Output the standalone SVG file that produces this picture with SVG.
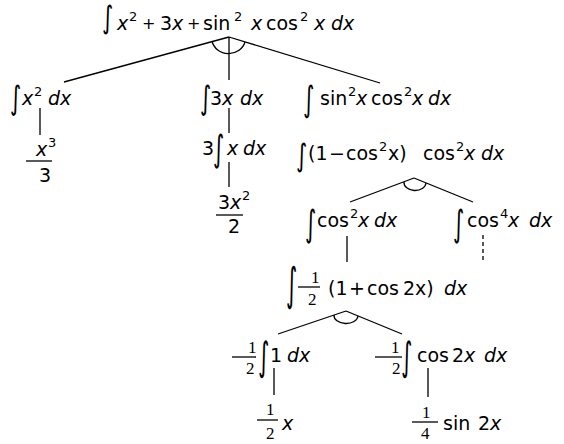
<svg xmlns="http://www.w3.org/2000/svg" width="564" height="444" viewBox="0 0 564 444">
<style>
.t{font-family:"DejaVu Sans","Liberation Sans",Arial,sans-serif;font-size:19px;fill:#000}
.i{font-style:italic}
.s{font-size:13px}
.p{font-size:16px}
.int{font-family:"DejaVu Sans",sans-serif;font-size:24px;fill:#000}
.f{font-family:"Liberation Serif","Times New Roman",serif;font-size:17px}
.ln{stroke:#000;stroke-width:1.3;fill:none}
.bar{stroke:#000;stroke-width:1.3}
.dash{stroke-dasharray:4 3}
</style>
<rect width="564" height="444" fill="#fff"/>
<g id="connectors">
<path class="ln" d="M229,37 L64,82 M229,37 L229,80 M229,37 L380,83"/>
<path class="ln" d="M212,41 A17,16 0 0 0 245,42"/>
<path class="ln" d="M40,108 L40,135"/>
<path class="ln" d="M229,108 L229,133 M229,162 L229,187"/>
<path class="ln" d="M414,178 L350,202 M414,178 L473,202"/>
<path class="ln" d="M404,182 A11,8 0 0 0 426,183"/>
<path class="ln" d="M347,236 L347,262"/>
<path class="ln dash" d="M483,235 L483,263"/>
<path class="ln" d="M346,311 L278,334 M346,311 L402,334"/>
<path class="ln" d="M334,315 A12,8 0 0 0 358,316"/>
<path class="ln" d="M274,368 L274,395 M428,368 L428,397"/>
</g>
<g id="n0">
<text class="int" transform="translate(102,28.2) scale(0.9,1.3)">∫</text>
<text class="t"><tspan class="i" x="117" y="30">x</tspan><tspan class="s" x="129" y="21">2</tspan><tspan class="p" x="142" y="29">+</tspan><tspan x="160" y="30">3</tspan><tspan class="i" x="172" y="30">x</tspan><tspan class="p" x="187" y="29">+</tspan><tspan x="203" y="30">sin</tspan><tspan class="s" x="234" y="21">2</tspan><tspan class="i" x="251" y="30">x</tspan><tspan x="266" y="30">cos</tspan><tspan class="s" x="300" y="21">2</tspan><tspan class="i" x="314" y="30">x</tspan><tspan class="i" x="331" y="30">dx</tspan></text>
</g>
<g id="n1">
<text class="int" transform="translate(10,109) scale(0.9,1.35)">∫</text>
<text class="t"><tspan class="i" x="22" y="105">x</tspan><tspan class="s" x="34" y="96">2</tspan><tspan class="i" x="48" y="105">dx</tspan></text>
</g>
<g id="n2">
<text class="int" transform="translate(200,109) scale(0.9,1.35)">∫</text>
<text class="t"><tspan x="210" y="105">3</tspan><tspan class="i" x="222" y="105">x</tspan><tspan class="i" x="240" y="105">dx</tspan></text>
</g>
<g id="n3">
<text class="int" transform="translate(303,110.8) scale(0.9,1.46)">∫</text>
<text class="t"><tspan x="320" y="105">sin</tspan><tspan class="s" x="348" y="96">2</tspan><tspan class="i" x="356" y="105">x</tspan><tspan x="371" y="105">cos</tspan><tspan class="s" x="404" y="96">2</tspan><tspan class="i" x="412" y="105">x</tspan><tspan class="i" x="428" y="105">dx</tspan></text>
</g>
<g id="n4">
<text class="t"><tspan class="i" x="36" y="156">x</tspan><tspan class="s" x="48" y="147">3</tspan><tspan x="39" y="182">3</tspan></text>
<line class="bar" x1="26" y1="161" x2="52" y2="161"/>
</g>
<g id="n5">
<text class="t"><tspan x="202" y="155">3</tspan></text>
<text class="int" transform="translate(213,160.6) scale(0.9,1.51)">∫</text>
<text class="t"><tspan class="i" x="227" y="155">x</tspan><tspan class="i" x="243" y="155">dx</tspan></text>
</g>
<g id="n6">
<text class="t"><tspan x="218" y="209">3</tspan><tspan class="i" x="230" y="209">x</tspan><tspan class="s" x="242" y="200">2</tspan><tspan x="228" y="233">2</tspan></text>
<line class="bar" x1="216" y1="215" x2="243" y2="215"/>
</g>
<g id="n7">
<text class="int" transform="translate(296,166.2) scale(0.9,1.3)">∫</text>
<text class="t"><tspan x="308" y="160">(1</tspan><tspan x="329" y="160">−</tspan><tspan x="346" y="160">cos</tspan><tspan class="s" x="379" y="151">2</tspan><tspan x="388" y="160">x)</tspan><tspan x="423" y="160">cos</tspan><tspan class="s" x="456" y="151">2</tspan><tspan class="i" x="464" y="160">x</tspan><tspan class="i" x="481" y="160">dx</tspan></text>
</g>
<g id="n8">
<text class="int" transform="translate(305,235.6) scale(0.9,1.51)">∫</text>
<text class="t"><tspan x="317" y="227">cos</tspan><tspan class="s" x="350" y="218">2</tspan><tspan class="i" x="358" y="227">x</tspan><tspan class="i" x="374" y="227">dx</tspan></text>
</g>
<g id="n9">
<text class="int" transform="translate(453,235.6) scale(0.9,1.51)">∫</text>
<text class="t"><tspan x="467" y="227">cos</tspan><tspan class="s" x="500" y="218">4</tspan><tspan class="i" x="508" y="227">x</tspan><tspan class="i" x="529" y="227">dx</tspan></text>
</g>
<g id="n10">
<text class="int" transform="translate(286,299.5) scale(0.9,1.89)">∫</text>
<text class="t"><tspan class="f" x="311" y="283">1</tspan><tspan class="f" x="308" y="305">2</tspan><tspan x="328" y="295">(1</tspan><tspan x="349" y="295">+</tspan><tspan x="367" y="295">cos</tspan><tspan x="403" y="295">2x)</tspan><tspan class="i" x="444" y="295">dx</tspan></text>
<line class="bar" x1="298" y1="287" x2="320" y2="287"/>
</g>
<g id="n11">
<text class="t"><tspan class="f" x="248" y="353">1</tspan><tspan class="f" x="246" y="374">2</tspan></text>
<line class="bar" x1="232" y1="357" x2="256" y2="357"/>
<text class="int" transform="translate(258,370.3) scale(0.9,1.62)">∫</text>
<text class="t"><tspan x="270" y="362">1</tspan><tspan class="i" x="287" y="362">dx</tspan></text>
</g>
<g id="n12">
<text class="t"><tspan class="f" x="391" y="353">1</tspan><tspan class="f" x="392" y="374">2</tspan></text>
<line class="bar" x1="375" y1="357" x2="402" y2="357"/>
<text class="int" transform="translate(401,370.3) scale(0.9,1.62)">∫</text>
<text class="t"><tspan x="417" y="362">cos</tspan><tspan x="452" y="362">2</tspan><tspan class="i" x="464" y="362">x</tspan><tspan class="i" x="484" y="362">dx</tspan></text>
</g>
<g id="n13">
<text class="t"><tspan class="f" x="266" y="415">1</tspan><tspan class="f" x="266" y="439">2</tspan><tspan class="i" x="282" y="430">x</tspan></text>
<line class="bar" x1="257" y1="420" x2="278" y2="420"/>
</g>
<g id="n14">
<text class="t"><tspan class="f" x="422" y="418">1</tspan><tspan class="f" x="421" y="439">4</tspan><tspan x="443" y="430">sin</tspan><tspan x="478" y="430">2</tspan><tspan class="i" x="490" y="430">x</tspan></text>
<line class="bar" x1="412" y1="422" x2="438" y2="422"/>
</g>
</svg>
